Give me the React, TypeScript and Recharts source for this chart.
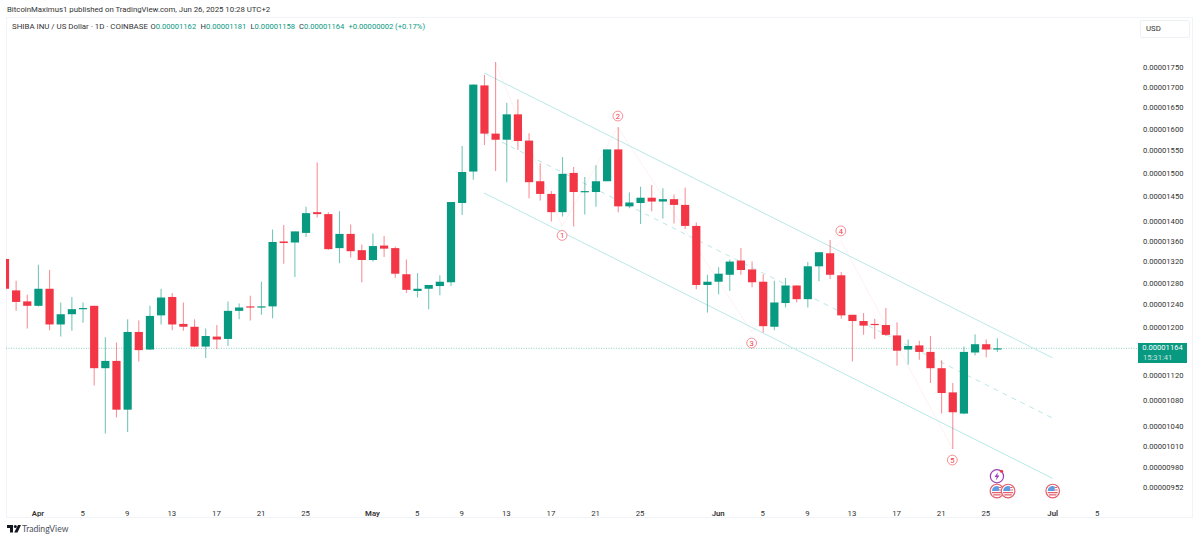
import React from "react";
import { ComposedChart, Bar, Line, Scatter, XAxis, YAxis, ReferenceLine } from "recharts";

// Prices are in units of 0.00000001 USD. First candle is Mar 29 (day -3, Apr 1 = day 0).
const firstDay = -3;
const opens = [1325,1266,1246,1238,1269,1205,1223,1232,1238,1131,1143,1065,1192,1162,1221,1254,1206,1201,1167,1184,1180,1229,1237,1235,1237,1359,1357,1376,1418,1414,1346,1374,1342,1323,1351,1346,1296,1265,1269,1274,1281,1437,1504,1704,1589,1575,1634,1573,1483,1456,1418,1501,1460,1460,1483,1553,1430,1437,1448,1440,1445,1433,1390,1276,1282,1295,1322,1305,1282,1201,1243,1275,1250,1311,1336,1294,1222,1211,1206,1204,1186,1162,1169,1158,1131,1092,1059,1157,1171,1162];
const highs = [1325,1284,1258,1314,1304,1244,1254,1244,1238,1183,1174,1214,1212,1238,1269,1261,1244,1214,1198,1204,1246,1242,1256,1282,1383,1392,1379,1429,1524,1418,1420,1393,1353,1375,1370,1349,1324,1298,1276,1294,1439,1561,1707,1730,1763,1662,1670,1590,1522,1462,1536,1514,1492,1518,1553,1604,1459,1471,1475,1468,1455,1469,1397,1295,1309,1324,1346,1320,1296,1284,1289,1275,1319,1338,1362,1300,1222,1225,1215,1234,1209,1179,1177,1185,1144,1107,1167,1188,1179,1181];
const lows = [1269,1229,1198,1237,1195,1184,1194,1208,1103,1029,1053,1031,1142,1161,1205,1195,1194,1166,1148,1163,1168,1214,1212,1222,1216,1316,1291,1368,1407,1343,1317,1328,1281,1320,1329,1289,1261,1253,1232,1257,1274,1412,1486,1563,1505,1481,1552,1447,1442,1399,1409,1389,1413,1429,1483,1418,1426,1394,1420,1405,1395,1384,1268,1226,1259,1265,1295,1272,1191,1195,1235,1244,1235,1283,1287,1215,1142,1187,1180,1185,1135,1137,1145,1107,1059,1006,1058,1152,1149,1158];
const closes = [1269,1245,1238,1269,1205,1223,1232,1234,1131,1143,1065,1192,1161,1220,1253,1205,1201,1167,1185,1179,1229,1235,1235,1237,1358,1356,1379,1416,1414,1344,1374,1340,1323,1350,1345,1297,1267,1269,1276,1282,1439,1503,1706,1589,1575,1634,1572,1481,1456,1418,1499,1460,1462,1483,1553,1430,1438,1448,1440,1445,1433,1390,1276,1282,1297,1320,1304,1281,1202,1244,1275,1250,1311,1338,1295,1221,1211,1203,1204,1187,1160,1168,1158,1131,1091,1061,1158,1171,1162,1164];

const upperChannel = [{ day: 40, price: 1735 }, { day: 91, price: 1148 }];
const middleChannel = [{ day: 40, price: 1590 }, { day: 91, price: 1052 }];
const lowerChannel = [{ day: 40, price: 1458 }, { day: 91, price: 964 }];
const wavePath = [
  { day: 41, price: 1763 }, { day: 47, price: 1389 }, { day: 52, price: 1604 },
  { day: 64, price: 1192 }, { day: 72, price: 1360 }, { day: 82, price: 1007 },
];
const waveLabels = [
  { day: 47, price: 1371, label: "1" }, { day: 52, price: 1630, label: "2" },
  { day: 64, price: 1173, label: "3" }, { day: 72, price: 1380, label: "4" },
  { day: 82, price: 990, label: "5" },
];
const flagEvents = [{ day: 86, price: 946.5 }, { day: 87, price: 946.5 }, { day: 91, price: 946.5 }];
const boltEvents = [{ day: 86, price: 967 }];

const lastPrice = 1164;
const yTicks = [1750,1700,1650,1600,1550,1500,1450,1400,1360,1320,1280,1240,1200,1120,1080,1040,1010,980,952];
const xTicks = [0,4,8,12,16,20,24,30,34,38,42,46,50,54,61,65,69,73,77,81,85,91,95];
const xLabels = ["Apr","5","9","13","17","21","25","May","5","9","13","17","21","25","Jun","5","9","13","17","21","25","Jul","5"];
const headerTitle = "BitcoinMaximus1 published on TradingView.com, Jun 26, 2025 10:28 UTC+2";
const symbolTitle = "SHIBA INU / US Dollar · 1D · COINBASE";
const ohlcHeader = [
  { k: "O", v: "0.00001162", x: 150.5 }, { k: "H", v: "0.00001181", x: 200.5 },
  { k: "L", v: "0.00001158", x: 250.5 }, { k: "C", v: "0.00001164", x: 299 },
];
const changeText = "+0.00000002 (+0.17%)";

const GREEN = "#089981";
const RED = "#F23645";
const CHANNEL = "#b9e8ea";
const FONT = "Roboto, sans-serif";
const X_DOMAIN: [number, number] = [-2.87, 98.56];
const Y_DOMAIN: [number, number] = [934.3, 1878.9];

const candles = opens.map((open, i) => ({
  day: firstDay + i, open, high: highs[i], low: lows[i], close: closes[i], range: [lows[i], highs[i]],
}));

function Candle(props: any) {
  const { x, y, width, height, payload } = props;
  const { open, high, low, close } = payload;
  const span = Math.log(high / low) || 1;
  const at = (v: number) => y + (height * Math.log(high / v)) / span;
  const up = close >= open;
  const color = up ? GREEN : RED;
  const cx = x + width / 2;
  const top = at(Math.max(open, close));
  const bot = at(Math.min(open, close));
  const bodyH = Math.max(bot - top, 1.2);
  return (
    <g>
      <line x1={cx} x2={cx} y1={y} y2={y + height} stroke={color} strokeWidth={1.1} strokeOpacity={0.55} />
      <rect x={cx - 4.1} width={8.2} y={top} height={bodyH} fill={color} />
    </g>
  );
}

function WaveMark(props: any) {
  const { cx, cy, payload } = props;
  return (
    <g>
      <circle cx={cx} cy={cy} r={4.9} fill="#fff" stroke={RED} strokeOpacity={0.7} strokeWidth={0.8} />
      <text x={cx} y={cy + 2.6} textAnchor="middle" fontSize={7.6} fontFamily={FONT} fill={RED}>{payload.label}</text>
    </g>
  );
}

function FlagMark(props: any) {
  const { cx, cy } = props;
  return (
    <g transform={`translate(${cx},${cy})`}>
      <circle r={6.8} fill="#fff" stroke="#e5606e" strokeWidth={1.2} />
      <path d="M-5,0 A5,5 0 0 1 2,-4.6 L2,0 Z" fill="#5b9fe0" />
      <path d="M2,-3.6 L4.4,-3.6 M2,-1 L5,-1 M-5,1.6 L5,1.6 M-3.8,3.8 L3.8,3.8" stroke="#e5606e" strokeWidth={1.1} />
    </g>
  );
}

function BoltMark(props: any) {
  const { cx, cy } = props;
  return (
    <g transform={`translate(${cx},${cy})`}>
      <circle r={6.6} fill="#fff" stroke="#9c3fb5" strokeWidth={1.2} />
      <path d="M1,-4 L-2.5,0.8 L-0.3,0.8 L-1,4 L2.5,-0.8 L0.3,-0.8 Z" fill="#9c3fb5" />
      <circle cx={4.6} cy={-5} r={1.6} fill={RED} />
    </g>
  );
}

function XTick(props: any) {
  const { x, y, index } = props;
  const text = xLabels[index];
  const month = isNaN(Number(text));
  return (
    <text x={x} y={y + 8} textAnchor="middle" fontSize={7.8} fontFamily={FONT} fontWeight={month ? 600 : 400} fill="#333">
      {text}
    </text>
  );
}

const fmt = (v: number) => (v * 1e-8).toFixed(8);

export default function App() {
  return (
    <div style={{ position: "absolute", left: 0, top: 0, width: 1200, height: 541, background: "#fff", overflow: "hidden", fontFamily: FONT, color: "#333" }}>
      <div style={{ position: "absolute", left: 6, top: 17, width: 1187, height: 501, border: "1px solid #f0f3f8", boxSizing: "border-box" }} />

      {/* Drawings that sit behind the candles */}
      <ComposedChart
        width={1200}
        height={541}
        margin={{ top: 18, right: 63, bottom: 41, left: 6 }}
        style={{ position: "absolute", left: 0, top: 0 }}
      >
        <XAxis dataKey="day" type="number" domain={X_DOMAIN} allowDataOverflow hide />
        <YAxis type="number" scale="log" domain={Y_DOMAIN} allowDataOverflow hide />
        <ReferenceLine y={lastPrice} stroke={GREEN} strokeOpacity={0.45} strokeDasharray="1 1.5" />
        <Line data={wavePath} dataKey="price" stroke={RED} strokeOpacity={0.09} strokeWidth={0.8} dot={false} isAnimationActive={false} />
        <Line data={upperChannel} dataKey="price" stroke={CHANNEL} strokeWidth={1} dot={false} isAnimationActive={false} />
        <Line data={middleChannel} dataKey="price" stroke={CHANNEL} strokeWidth={1} strokeDasharray="5 5" dot={false} isAnimationActive={false} />
        <Line data={lowerChannel} dataKey="price" stroke={CHANNEL} strokeWidth={1} dot={false} isAnimationActive={false} />
      </ComposedChart>

      {/* Candles, axes and marks */}
      <ComposedChart
        width={1200}
        height={541}
        data={candles}
        margin={{ top: 18, right: 0, bottom: 23, left: 6 }}
        style={{ position: "absolute", left: 0, top: 0 }}
      >
        <XAxis
          dataKey="day"
          type="number"
          domain={X_DOMAIN}
          allowDataOverflow
          ticks={xTicks}
          interval={0}
          height={18}
          axisLine={false}
          tickLine={false}
          tick={<XTick />}
        />
        <YAxis
          orientation="right"
          type="number"
          scale="log"
          domain={Y_DOMAIN}
          allowDataOverflow
          ticks={yTicks}
          interval={0}
          width={63}
          axisLine={false}
          tickLine={false}
          tickSize={0}
          tickMargin={6}
          tickFormatter={fmt}
          tick={{ fontSize: 7.6, fontFamily: FONT, fill: "#333" }}
        />
        <Bar dataKey="range" barSize={8} shape={<Candle />} isAnimationActive={false} />
        <Scatter data={waveLabels} dataKey="price" shape={<WaveMark />} isAnimationActive={false} />
        <Scatter data={flagEvents} dataKey="price" shape={<FlagMark />} isAnimationActive={false} />
        <Scatter data={boltEvents} dataKey="price" shape={<BoltMark />} isAnimationActive={false} />
      </ComposedChart>

      <div style={{ position: "absolute", left: 7, top: 5, fontSize: 7.8, whiteSpace: "nowrap", lineHeight: "10px" }}>{headerTitle}</div>
      <div style={{ position: "absolute", left: 12, top: 22, fontSize: 7.9, whiteSpace: "nowrap", lineHeight: "10px" }}>{symbolTitle}</div>
      {ohlcHeader.map((o) => (
        <div key={o.k} style={{ position: "absolute", left: o.x, top: 22, fontSize: 7.6, whiteSpace: "nowrap", lineHeight: "10px" }}>
          {o.k}<span style={{ color: GREEN }}>{o.v}</span>
        </div>
      ))}
      <div style={{ position: "absolute", left: 348.5, top: 22, fontSize: 7.6, whiteSpace: "nowrap", lineHeight: "10px", color: GREEN }}>{changeText}</div>

      <div style={{ position: "absolute", left: 1140, top: 20, width: 50, height: 18, border: "1px solid #eef0f5", borderRadius: 2, boxSizing: "border-box", fontSize: 7.8, lineHeight: "16px", paddingLeft: 5 }}>USD</div>

      <div style={{ position: "absolute", left: 1138, top: 343, width: 49, height: 20, background: GREEN, color: "#fff", fontSize: 7.6, textAlign: "center", lineHeight: "10px" }}>
        <div>{fmt(lastPrice)}</div>
        <div style={{ opacity: 0.75, textAlign: "left", paddingLeft: 5 }}>15:31:41</div>
      </div>

      <svg style={{ position: "absolute", left: 7, top: 525 }} width={14} height={8} viewBox="0 0 14 8">
        <path d="M0,0 H6 V7.5 H3 V3 H0 Z M11,0 H14 L10.5,7.5 H7.2 Z" fill="#131722" />
        <circle cx={8.3} cy={1.5} r={1.5} fill="#131722" />
      </svg>
      <div style={{ position: "absolute", left: 22, top: 523, fontSize: 8.6, lineHeight: "12px", color: "#4a4f5a", fontFamily: "Lato, sans-serif", whiteSpace: "nowrap" }}>TradingView</div>
    </div>
  );
}
